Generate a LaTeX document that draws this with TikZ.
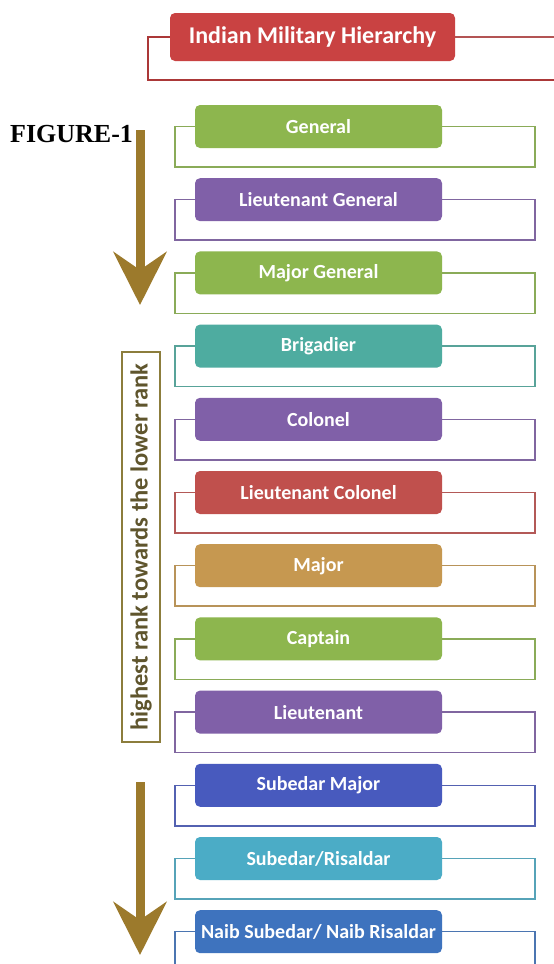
\documentclass[tikz,border=0pt]{standalone}
\usepackage{fontspec}
\usetikzlibrary{arrows.meta}
\newfontfamily\boxfont{Carlito}
\newfontfamily\capfont{Liberation Serif}

\definecolor{titlered}{RGB}{201,66,66}
\definecolor{rgreen}{RGB}{141,182,78}
\definecolor{rpurple}{RGB}{128,96,168}
\definecolor{rteal}{RGB}{78,172,160}
\definecolor{rred}{RGB}{192,80,77}
\definecolor{rgold}{RGB}{198,152,80}
\definecolor{rblue}{RGB}{72,90,190}
\definecolor{rcyan}{RGB}{75,172,198}
\definecolor{rsteel}{RGB}{62,115,190}
\definecolor{arrowbrown}{RGB}{156,122,44}
\definecolor{noteolive}{RGB}{140,125,60}
\definecolor{notetext}{RGB}{95,85,45}

\tikzset{
  rank/.style={rounded corners=5pt, minimum width=247pt, minimum height=43pt,
    inner sep=0pt, text=white, font=\boxfont\bfseries\fontsize{20}{23}\selectfont},
  titlebox/.style={rank, minimum width=285pt, minimum height=48pt,
    font=\boxfont\bfseries\fontsize{24}{27}\selectfont},
  bracket/.style={line width=1.5pt},
  rankarrow/.style={draw=arrowbrown, line width=9pt,
    -{Stealth[length=53pt, width=53pt, inset=18pt, fill=arrowbrown]}},
}

\begin{document}
\begin{tikzpicture}[x=1pt, y=-1pt]
  \useasboundingbox (0,0) rectangle (554,964);
  \clip (0,0) rectangle (554,964);
  \fill[white] (0,0) rectangle (554,964);

  % heading with its open bracket
  \node[titlebox, fill=titlered] (title) at (312.5,37) {Indian Military Hierarchy};
  \draw[line width=2pt, draw=titlered!85!black] (title.west) -- ++(-22,0) -- ++(0,43) -- ++(440,0);
  \draw[line width=1.5pt, draw=titlered!70!gray] (title.east) -- ++(120,0);

  % ranks, from the highest to the lowest
  \foreach \i/\nm/\txt/\col in {
      0/general/{General}/rgreen,
      1/ltgeneral/{Lieutenant General}/rpurple,
      2/mjgeneral/{Major General}/rgreen,
      3/brigadier/{Brigadier}/rteal,
      4/colonel/{Colonel}/rpurple,
      5/ltcolonel/{Lieutenant Colonel}/rred,
      6/major/{Major}/rgold,
      7/captain/{Captain}/rgreen,
      8/lieutenant/{Lieutenant}/rpurple,
      9/sbmajor/{Subedar Major}/rblue,
      10/subedar/{Subedar/Risaldar}/rcyan,
      11/naib/{Naib Subedar/ Naib Risaldar}/rsteel} {
    \pgfmathsetmacro\ymid{126.5+73.2*\i}
    \node[rank, fill=\col] (\nm) at (318.5,\ymid) {\txt};
    \draw[bracket, draw=\col!80!gray] (\nm.west) -- ++(-20,0) -- ++(0,40.5)
      -- ++(360,0) -- ++(0,-40.5) -- (\nm.east);
  }

  % caption and direction arrows
  \node[anchor=base west, inner sep=0pt, font=\capfont\bfseries\fontsize{26}{30}\selectfont]
    (figcap) at (10,142) {FIGURE-1};
  \coordinate (topstart) at (140,130);
  \coordinate (topend) at (140,305);
  \draw[rankarrow] (topstart) -- (topend);
  \coordinate (lowstart) at (140,782);
  \coordinate (lowend) at (140,955);
  \draw[rankarrow] (lowstart) -- (lowend);

  % vertical note
  \node[draw=noteolive, line width=2pt, rotate=90, minimum width=390pt,
    minimum height=38pt, inner sep=0pt, text=notetext,
    font=\boxfont\bfseries\fontsize{24.5}{27}\selectfont] (note) at (141,547)
    {highest rank towards the lower rank};
\end{tikzpicture}
\end{document}
